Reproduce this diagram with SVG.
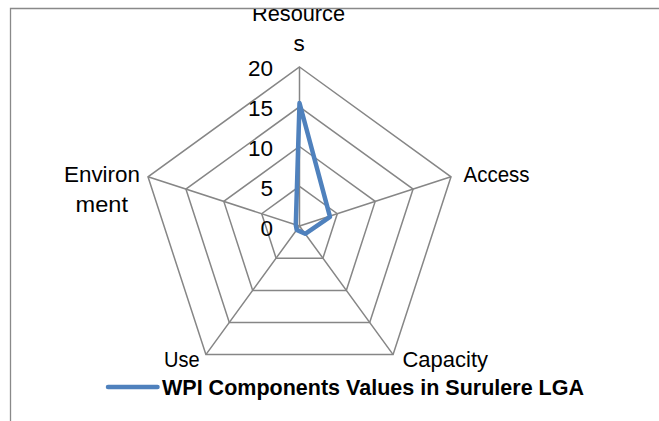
<svg xmlns="http://www.w3.org/2000/svg" width="659" height="421" viewBox="0 0 659 421">
<style>
.grid{fill:none;stroke:#868686;stroke-width:1.5}
.lbl{font-family:"Liberation Sans",Arial,sans-serif;font-size:22.5px;fill:#000}
.tick{font-family:"Liberation Sans",Arial,sans-serif;font-size:22.5px;fill:#000;text-anchor:end}
.series{fill:none;stroke:#4F81BD;stroke-width:4.5;stroke-linejoin:round;stroke-linecap:round}
</style>
<defs><clipPath id="area"><rect x="11" y="9" width="648" height="412"/></clipPath></defs>
<rect width="659" height="421" fill="#fff"/>
<path d="M10.5 421 V8.5 H659" fill="none" stroke="#898989" stroke-width="1.3"/>
<g clip-path="url(#area)">
<g id="grid">
<polygon class="grid" points="299.5,67 451,176.8 393.1,354.6 205.9,354.6 148,176.8"/>
<polygon class="grid" points="299.5,106.8 413.1,189.1 369.7,322.5 229.3,322.5 185.9,189.1"/>
<polygon class="grid" points="299.5,146.5 375.2,201.4 346.3,290.4 252.7,290.4 223.8,201.4"/>
<polygon class="grid" points="299.5,186.3 337.3,213.7 322.9,258.2 276.1,258.2 261.7,213.7"/>
<path class="grid" d="M299.5 226 L299.5 67 M299.5 226 L451 176.8 M299.5 226 L393.1 354.6 M299.5 226 L205.9 354.6 M299.5 226 L148 176.8"/>
</g>
<g id="ticks">
<text class="tick" x="273" y="75.5" textLength="25" lengthAdjust="spacingAndGlyphs">20</text>
<text class="tick" x="273" y="115.5" textLength="25" lengthAdjust="spacingAndGlyphs">15</text>
<text class="tick" x="273" y="155.5" textLength="25" lengthAdjust="spacingAndGlyphs">10</text>
<text class="tick" x="273" y="195.5">5</text>
<text class="tick" x="273" y="235.5">0</text>
</g>
<g id="connectors">
<polygon class="series" points="299.5,103 330,216.8 305.2,233.8 296.7,229.9 295.8,224.8"/>
</g>
<g id="node-resources"><text class="lbl" x="252" y="21" textLength="93" lengthAdjust="spacingAndGlyphs">Resource</text><text class="lbl" x="299" y="51" text-anchor="middle">s</text></g>
<g id="node-access"><text class="lbl" x="463.5" y="181.7" textLength="66" lengthAdjust="spacingAndGlyphs">Access</text></g>
<g id="node-capacity"><text class="lbl" x="402.5" y="366.7" textLength="85.5" lengthAdjust="spacingAndGlyphs">Capacity</text></g>
<g id="node-use"><text class="lbl" x="164" y="366.7" textLength="35.6" lengthAdjust="spacingAndGlyphs">Use</text></g>
<g id="node-environment"><text class="lbl" x="64" y="181.7" textLength="76" lengthAdjust="spacingAndGlyphs">Environ</text><text class="lbl" x="75.6" y="212" textLength="52.4" lengthAdjust="spacingAndGlyphs">ment</text></g>
<g id="legend">
<line x1="108" y1="387" x2="157.5" y2="387" stroke="#4F81BD" stroke-width="4.5" stroke-linecap="round"/>
<text class="lbl" x="162" y="395" font-weight="bold" textLength="422" lengthAdjust="spacingAndGlyphs">WPI Components Values in Surulere LGA</text>
</g>
</g>
</svg>
